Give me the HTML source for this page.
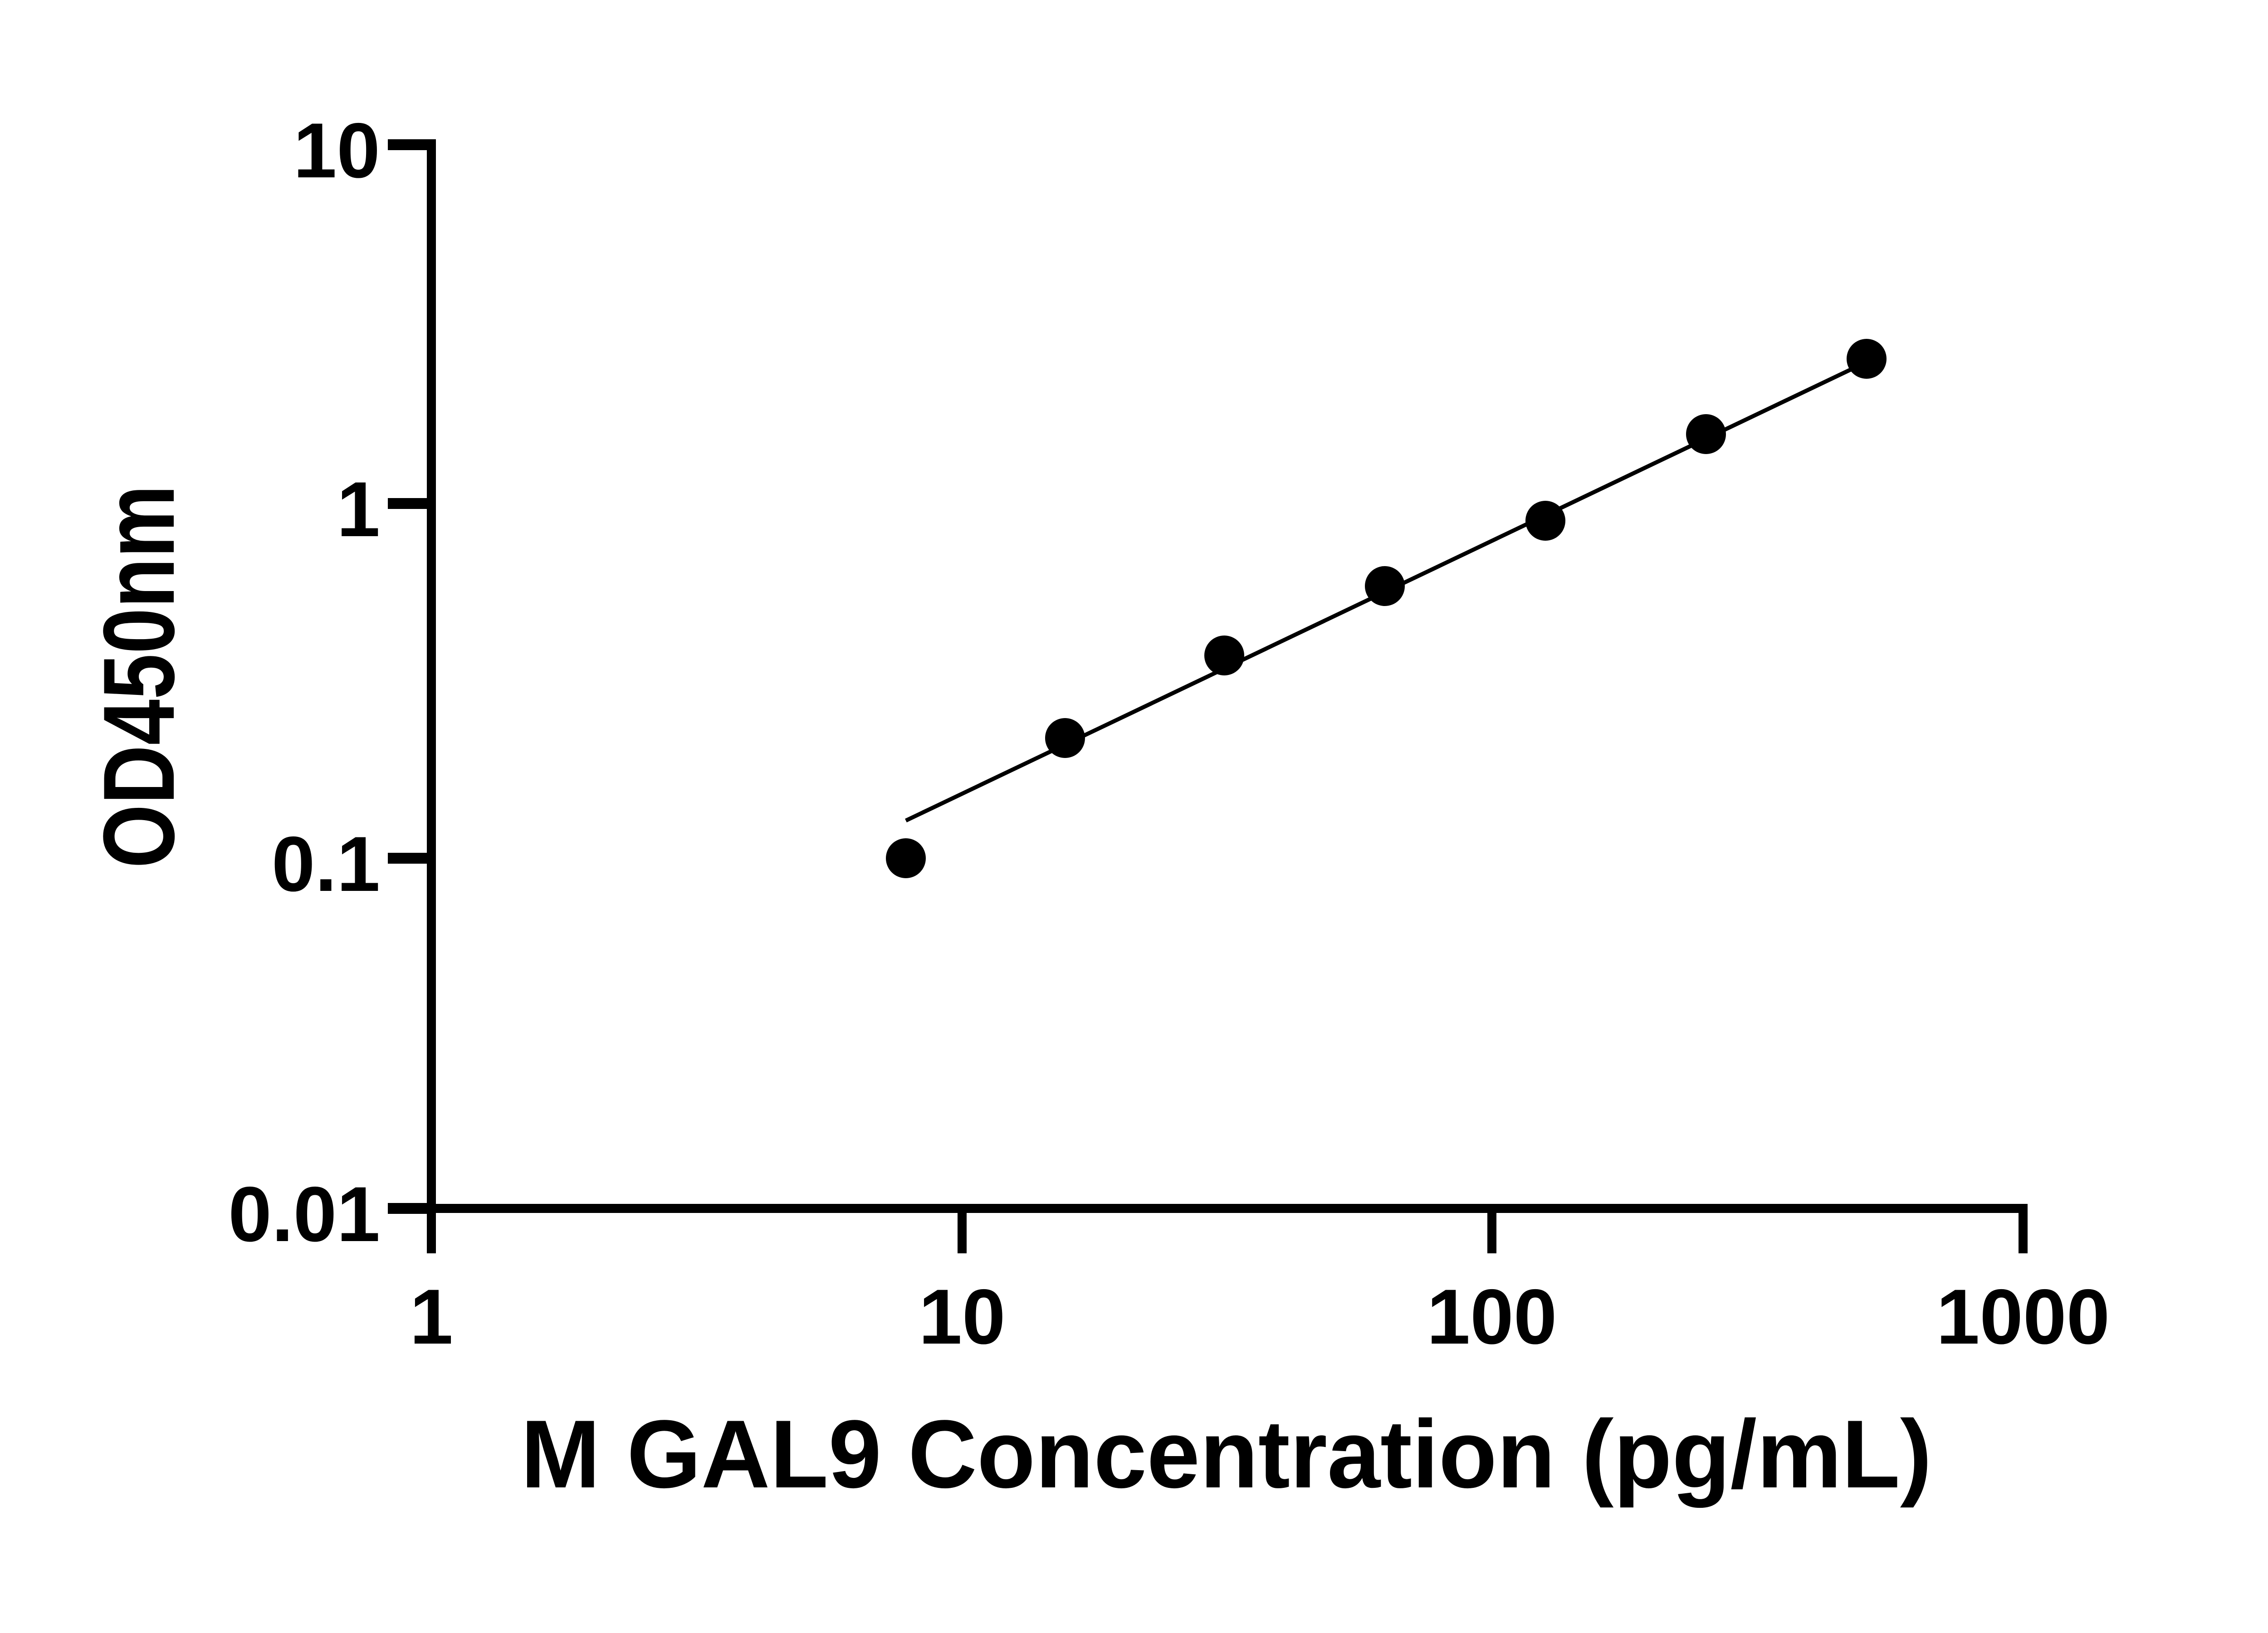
<!DOCTYPE html>
<html><head><style>html,body{margin:0;padding:0;background:#fff}svg{display:block}</style></head><body>
<svg width="5130" height="3600" viewBox="0 0 5130 3600" xmlns="http://www.w3.org/2000/svg" font-family="Liberation Sans, Arial, sans-serif" font-weight="bold">
<rect width="5130" height="3600" fill="#fff"/>
<g stroke="#000" fill="none">
<line x1="951" y1="309" x2="951" y2="2674" stroke-width="20"/>
<line x1="941" y1="2664" x2="4460" y2="2664" stroke-width="20"/>
<line x1="4460" y1="2654" x2="4460" y2="2763" stroke-width="20"/>
<g stroke-width="24">
<line x1="855" y1="319" x2="961" y2="319"/>
<line x1="855" y1="1110" x2="961" y2="1110"/>
<line x1="855" y1="1892" x2="961" y2="1892"/>
<line x1="855" y1="2664" x2="961" y2="2664"/>
</g>
<g stroke-width="20">
<line x1="951" y1="2654" x2="951" y2="2763"/>
<line x1="2121" y1="2654" x2="2121" y2="2763"/>
<line x1="3289" y1="2654" x2="3289" y2="2763"/>
</g>
<line x1="1997" y1="1809" x2="4115" y2="798" stroke-width="9"/>
</g>
<g fill="#000">
<circle cx="1997" cy="1892" r="44"/>
<circle cx="2348" cy="1627" r="44"/>
<circle cx="2699" cy="1445" r="44"/>
<circle cx="3053" cy="1292" r="44"/>
<circle cx="3407" cy="1148" r="44"/>
<circle cx="3761" cy="957" r="44"/>
<circle cx="4115" cy="791" r="44"/>
</g>
<g font-size="172" text-anchor="end" fill="#000">
<text x="838" y="391">10</text>
<text x="838" y="1182">1</text>
<text x="838" y="1964">0.1</text>
<text x="838" y="2736">0.01</text>
</g>
<g font-size="172" text-anchor="middle" fill="#000">
<text x="951" y="2962">1</text>
<text x="2121" y="2962">10</text>
<text x="3289" y="2962">100</text>
<text x="4460" y="2962">1000</text>
</g>
<text x="1148" y="3279" font-size="213" textLength="3111" lengthAdjust="spacingAndGlyphs" fill="#000">M GAL9 Concentration (pg/mL)</text>
<text transform="translate(383,1914) rotate(-90)" x="0" y="0" font-size="223" textLength="845" lengthAdjust="spacingAndGlyphs" fill="#000">OD450nm</text>
</svg>
</body></html>
